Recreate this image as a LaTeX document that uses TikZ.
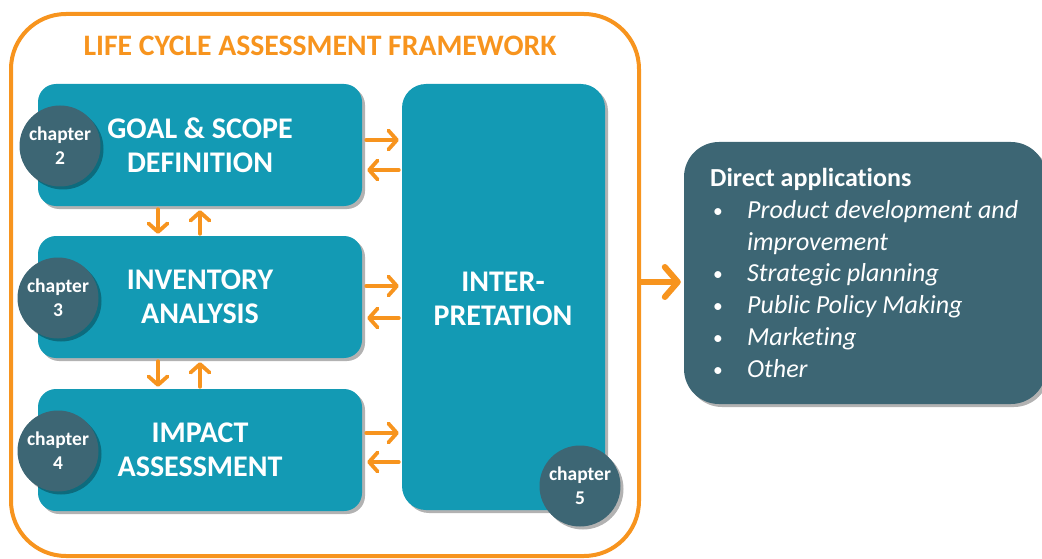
\documentclass[tikz,border=0pt]{standalone}
\usepackage{fontspec}
\setmainfont{Carlito}[Ligatures=NoCommon]
\usetikzlibrary{arrows.meta,shadows}
\definecolor{lcaorange}{RGB}{247,148,30}
\definecolor{lcateal}{RGB}{19,154,180}
\definecolor{lcaslate}{RGB}{61,102,116}
\newcommand{\lcabul}{\hspace*{3pt}\makebox[34pt][l]{\raisebox{1pt}{\scalebox{0.75}{\textbullet}}}}
\begin{document}
\begin{tikzpicture}[x=1pt,y=-1pt,
  shade3/.style={drop shadow={shadow xshift=3pt,shadow yshift=-3pt,opacity=0.3,fill=black}},
  stagebox/.style={fill=lcateal,draw=none,rounded corners=18pt,minimum width=324pt,minimum height=122pt,inner sep=0pt,shade3},
  stagetext/.style={text=white,font=\bfseries\fontsize{30}{34}\selectfont,align=center,inner sep=0pt},
  chap/.style={circle,fill=lcaslate,minimum size=81pt,inner sep=0pt,text=white,font=\bfseries\fontsize{19.5}{24}\selectfont,align=center,shade3},
  flow/.style={draw=lcaorange,line width=3.8pt,line cap=round,-{Straight Barb[length=8.5pt,width=19pt,round]}},
  bigflow/.style={draw=lcaorange,line width=6pt,line cap=round,-{Straight Barb[length=13pt,width=30pt,round]}},
]
\useasboundingbox (0,0) rectangle (1042,559);
% outer frame
\node[draw=lcaorange,line width=4pt,rounded corners=55pt,minimum width=628pt,minimum height=542pt,inner sep=0pt] (frame) at (325,285) {};
\node[text=lcaorange,font=\bfseries\fontsize{29.7}{32}\selectfont,inner sep=0pt] (title) at (320,46) {LIFE CYCLE ASSESSMENT FRAMEWORK};
% stage boxes
\node[stagebox] (goal) at (200,145) {};
\node[stagebox] (inv) at (200,297) {};
\node[stagebox] (imp) at (200,450) {};
\node[stagebox,minimum width=203pt,minimum height=426pt,rounded corners=24pt] (interp) at (503.5,297) {};
\node[stagetext] (goaltxt) at (200,145) {GOAL \& SCOPE\\DEFINITION};
\node[stagetext] (invtxt) at (200,297) {INVENTORY\\ANALYSIS};
\node[stagetext] (imptxt) at (200,450) {IMPACT\\ASSESSMENT};
\node[stagetext] (interptxt) at (503,299) {INTER-\\PRETATION};
% chapter badges
\node[chap] (ch2) at (60,146) {chapter\\2};
\node[chap] (ch3) at (58,298) {chapter\\3};
\node[chap] (ch4) at (58,451) {chapter\\4};
\node[chap] (ch5) at (580,486) {chapter\\5};
% horizontal arrows
\draw[flow,shorten <=4pt,shorten >=3pt] (goal.east |- 0,140) -- (interp.west |- 0,140);
\draw[flow,shorten <=3pt,shorten >=5pt] (interp.west |- 0,170) -- (goal.east |- 0,170);
\draw[flow,shorten <=4pt,shorten >=3pt] (inv.east |- 0,286) -- (interp.west |- 0,286);
\draw[flow,shorten <=3pt,shorten >=5pt] (interp.west |- 0,318) -- (inv.east |- 0,318);
\draw[flow,shorten <=4pt,shorten >=3pt] (imp.east |- 0,433) -- (interp.west |- 0,433);
\draw[flow,shorten <=3pt,shorten >=5pt] (interp.west |- 0,462) -- (imp.east |- 0,462);
% vertical arrows
\draw[flow,shorten <=3pt,shorten >=2pt] (goal.south -| 158,0) -- (inv.north -| 158,0);
\draw[flow,shorten <=2pt,shorten >=4pt] (inv.north -| 200,0) -- (goal.south -| 200,0);
\draw[flow,shorten <=3pt,shorten >=2pt] (inv.south -| 158,0) -- (imp.north -| 158,0);
\draw[flow,shorten <=2pt,shorten >=4pt] (imp.north -| 200,0) -- (inv.south -| 200,0);
% direct applications
\node[fill=lcaslate,draw=none,rounded corners=35pt,minimum width=362pt,minimum height=262pt,inner sep=0pt,shade3] (direct) at (865,273) {};
\draw[bigflow,shorten >=3pt] (frame.east |- 0,282) -- (direct.west |- 0,282);
\node[anchor=north west,text=white,font=\fontsize{26}{31.8}\selectfont,align=left,inner sep=0pt] (apps) at (710,168)
{\textbf{Direct applications}\\
\lcabul\textit{Product development and}\\
\hspace*{37pt}\textit{improvement}\\
\lcabul\textit{Strategic planning}\\
\lcabul\textit{Public Policy Making}\\
\lcabul\textit{Marketing}\\
\lcabul\textit{Other}};
\end{tikzpicture}
\end{document}
